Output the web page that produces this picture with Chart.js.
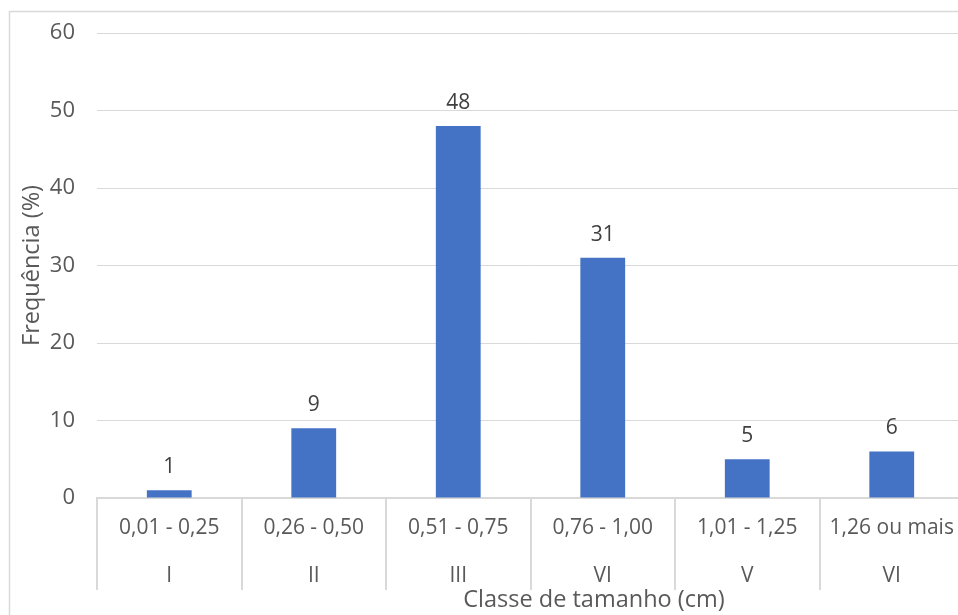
<!DOCTYPE html>
<html>
<head>
<meta charset="utf-8">
<script src="https://cdn.jsdelivr.net/npm/chart.js@4/dist/chart.umd.min.js"></script>
<style>
  html, body { margin: 0; padding: 0; background: #fff; overflow: hidden; }
  #wrap { width: 980px; height: 640px; position: relative; }
</style>
</head>
<body>
<div id="wrap"><canvas id="c" width="980" height="640"></canvas></div>
<script>
// Size classes (cm), class numerals and frequency (%)
const sizeRanges = ['0,01 - 0,25', '0,26 - 0,50', '0,51 - 0,75', '0,76 - 1,00', '1,01 - 1,25', '1,26 ou mais'];
const classNumerals = ['I', 'II', 'III', 'VI', 'V', 'VI'];
const frequency = [1, 9, 48, 31, 5, 6];
const yTicks = [0, 10, 20, 30, 40, 50, 60];

const FONT = '"Open Sans", sans-serif';
const TEXT = '#595959';
const LINE = '#d9d9d9';

// Draws the frame, value labels, two-row category axis and axis titles
const decorations = {
  id: 'decorations',
  afterDraw(chart) {
    const ctx = chart.ctx;
    const x = chart.scales.x;
    const y = chart.scales.y;
    const area = chart.chartArea;
    ctx.save();

    // outer frame
    ctx.strokeStyle = LINE;
    ctx.lineWidth = 1.5;
    ctx.strokeRect(9.5, 11.5, chart.width, chart.height);

    // value labels above the bars
    ctx.fillStyle = '#404040';
    ctx.font = '21px ' + FONT;
    ctx.textAlign = 'center';
    ctx.textBaseline = 'middle';
    const meta = chart.getDatasetMeta(0);
    meta.data.forEach((bar, i) => {
      ctx.fillText(String(frequency[i]), bar.x, y.getPixelForValue(frequency[i]) - 23);
    });

    // category separators
    const half = (x.getPixelForValue(1) - x.getPixelForValue(0)) / 2;
    ctx.strokeStyle = LINE;
    ctx.lineWidth = 2;
    for (let i = 0; i <= sizeRanges.length; i++) {
      const px = Math.round(x.getPixelForValue(i) - half);
      ctx.beginPath();
      ctx.moveTo(px, area.bottom);
      ctx.lineTo(px, area.bottom + 92);
      ctx.stroke();
    }

    // two rows of category labels
    ctx.fillStyle = TEXT;
    ctx.font = '21px ' + FONT;
    sizeRanges.forEach((lab, i) => {
      const cx = x.getPixelForValue(i);
      ctx.fillText(lab, cx, area.bottom + 30);
      ctx.fillText(classNumerals[i], cx, area.bottom + 78);
    });

    // axis titles
    ctx.font = '23.5px ' + FONT;
    ctx.fillText('Classe de tamanho (cm)', 594, area.bottom + 102);
    ctx.translate(32, (area.top + area.bottom) / 2);
    ctx.rotate(-Math.PI / 2);
    ctx.fillText('Frequência (%)', 0, 0);
    ctx.restore();
  }
};

new Chart(document.getElementById('c'), {
  type: 'bar',
  data: {
    labels: sizeRanges,
    datasets: [{
      data: frequency,
      backgroundColor: '#4472c4',
      borderWidth: 0,
      categoryPercentage: 1,
      barPercentage: 0.31
    }]
  },
  options: {
    responsive: false,
    animation: false,
    devicePixelRatio: 1,
    layout: { padding: { left: 0, top: 33, right: 16, bottom: 0 } },
    plugins: { legend: { display: false }, tooltip: { enabled: false } },
    scales: {
      x: {
        grid: { display: false },
        border: { display: true, color: LINE, width: 2 },
        ticks: { display: false },
        afterFit(scale) { scale.height = 142; }
      },
      y: {
        min: 0,
        max: 60,
        afterBuildTicks(scale) { scale.ticks = yTicks.map(v => ({ value: v })); },
        grid: { color: LINE, lineWidth: 1, drawTicks: false },
        border: { display: false },
        ticks: {
          color: TEXT,
          font: { family: FONT, size: 22 },
          padding: 22
        },
        afterFit(scale) {
          scale.width = 97;
          scale.paddingTop = 0;
          scale.paddingBottom = 0;
        }
      }
    }
  },
  plugins: [decorations]
});
</script>
</body>
</html>
